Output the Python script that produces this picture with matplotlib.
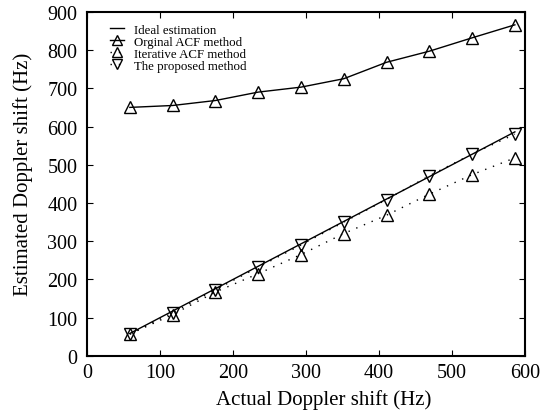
import matplotlib.pyplot as plt
import numpy as np

plt.rcParams['font.family'] = 'Liberation Serif'

actual = [58.6, 117.2, 175.8, 234.4, 293.0, 351.6, 410.2, 468.8, 527.4, 586.0]
ideal = actual
original_acf = [650, 655, 668, 690, 703, 725, 768, 797, 832, 866]
iterative_acf = [57, 108, 167, 215, 265, 320, 368, 423, 474, 518]
proposed = [57, 113, 173, 232, 290, 350, 409, 471, 528, 580]

fig = plt.figure(figsize=(5.51, 4.14), dpi=100)
ax = fig.add_axes([0.158, 0.138, 0.795, 0.831])

dots = (0, (1, 5))
ax.plot(actual, ideal, 'k-', lw=1.0, label='Ideal estimation')
ax.plot(actual, original_acf, 'k-', lw=1.0, marker='^', ms=8, mfc='none',
        mew=1.0, label='Orginal ACF method')
ax.plot(actual, iterative_acf, color='k', ls=dots, lw=1.0, marker='^', ms=8,
        mfc='none', mew=1.0, label='Iterative ACF method')
ax.plot(actual, proposed, color='k', ls=dots, lw=1.0, marker='v', ms=8,
        mfc='none', mew=1.0, label='The proposed method')

ax.set_xlim(0, 600)
ax.set_ylim(0, 900)
ax.set_xticks(np.arange(0, 601, 100))
ax.set_yticks(np.arange(0, 901, 100))
ax.tick_params(direction='in', top=True, right=True, labelsize=14.5, length=4)
ax.tick_params(axis='y', pad=7)
ax.tick_params(axis='x', pad=5)
for s in ax.spines.values():
    s.set_linewidth(1.5)

ax.set_xlabel('Actual Doppler shift (Hz)', fontsize=15)
ax.set_ylabel('Estimated Doppler shift (Hz)', fontsize=15)
ax.xaxis.set_label_coords(0.541, -0.098)
ax.yaxis.set_label_coords(-0.123, 0.529)
ax.legend(loc='upper left', bbox_to_anchor=(0.026, 1.0), frameon=False,
          fontsize=9.3, handlelength=1.1, labelspacing=0.0,
          handletextpad=0.75, markerscale=0.85)

fig.savefig('out.png')
